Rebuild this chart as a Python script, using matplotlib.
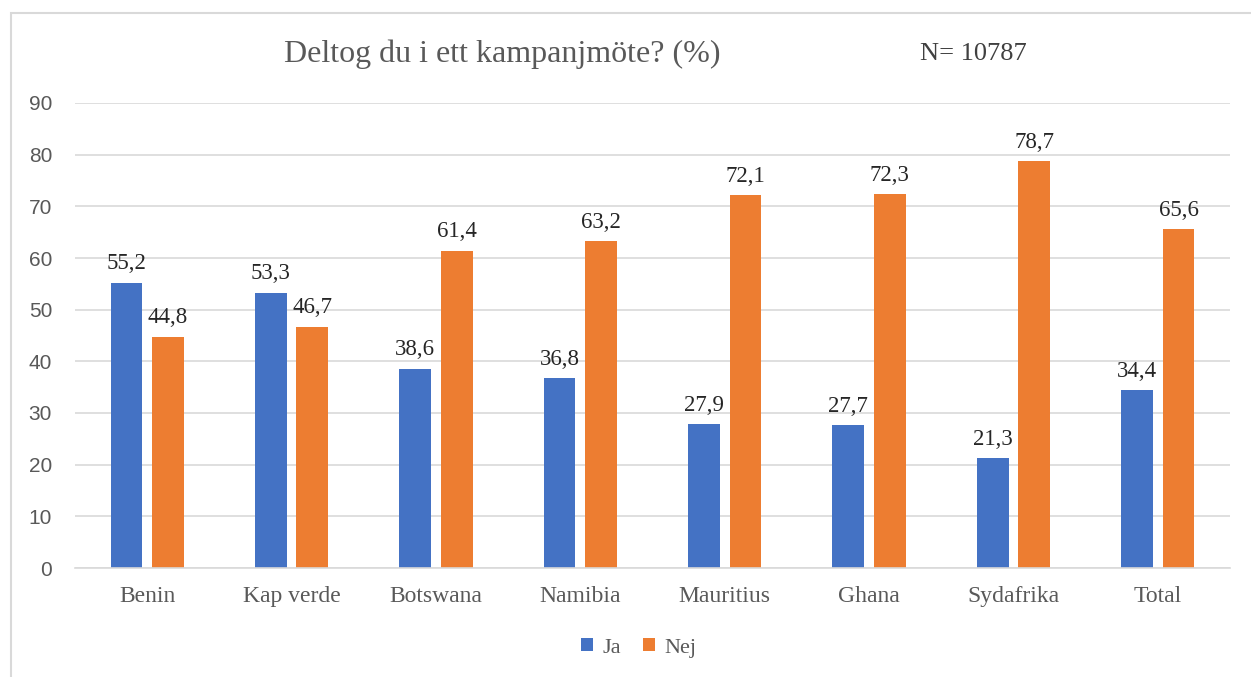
import matplotlib.pyplot as plt
import numpy as np
from matplotlib.patches import Rectangle

countries = ['Benin', 'Kap verde', 'Botswana', 'Namibia', 'Mauritius', 'Ghana', 'Sydafrika', 'Total']
ja = [55.2, 53.3, 38.6, 36.8, 27.9, 27.7, 21.3, 34.4]
nej = [44.8, 46.7, 61.4, 63.2, 72.1, 72.3, 78.7, 65.6]

W, H = 1251, 677
fig = plt.figure(figsize=(W / 100, H / 100), dpi=100)
# axes area in pixels: left 75, right 1230, top 103, bottom 568
ax = fig.add_axes([75 / W, 1 - 568 / H, (1230 - 75) / W, (568 - 103) / H])

# outer chart frame
fig.patches.append(Rectangle((11 / W, -0.1), 1.2, 1 - 13 / H + 0.1, transform=fig.transFigure,
                             fill=False, edgecolor='#d9d9d9', linewidth=1.5))

x = np.arange(len(countries))
bw = 0.22
off = 0.144
b1 = ax.bar(x - off, ja, bw, color='#4472c4', label='Ja')
b2 = ax.bar(x + off, nej, bw, color='#ed7d31', label='Nej')

serif = 'Liberation Serif'
for bars, vals in ((b1, ja), (b2, nej)):
    for r, v in zip(bars, vals):
        ax.annotate(f'{v:.1f}'.replace('.', ','), (r.get_x() + r.get_width() / 2, v),
                    xytext=(0, 6), textcoords='offset points',
                    ha='center', va='bottom', fontsize=16.5, family=serif, color='#262626')

ax.set_xlim(-0.5, len(countries) - 0.5)
ax.set_ylim(0, 90)
ax.set_yticks(range(0, 91, 10))
ax.yaxis.grid(True, color='#d9d9d9', linewidth=1.2)
ax.set_axisbelow(True)
for s in ['top', 'right', 'left']:
    ax.spines[s].set_visible(False)
ax.spines['bottom'].set_color('#d9d9d9')
ax.spines['bottom'].set_linewidth(1.2)
ax.tick_params(length=0)
ax.tick_params(axis='y', labelsize=15, labelcolor='#595959', pad=16.5)
ax.tick_params(axis='x', pad=13)
ax.set_xticks(x)
ax.set_xticklabels(countries, fontsize=17, family=serif, color='#595959')
for t in ax.get_yticklabels():
    t.set_family('Liberation Sans')

fig.text(502 / W, 1 - 54 / H, 'Deltog du i ett kampanjmöte? (%)', ha='center', va='center',
         fontsize=23, family=serif, color='#595959')
fig.text(973 / W, 1 - 54 / H, 'N= 10787', ha='center', va='center',
         fontsize=19, family=serif, color='#404040')

leg = fig.legend(handles=[b1, b2], loc='center', bbox_to_anchor=(639 / W, 1 - 648 / H), ncol=2,
                 frameon=False, prop={'family': serif, 'size': 16}, handlelength=0.5,
                 handleheight=0.5, handletextpad=0.45, columnspacing=1.0)
for t in leg.get_texts():
    t.set_color('#595959')

fig.savefig('out.png', dpi=100)
